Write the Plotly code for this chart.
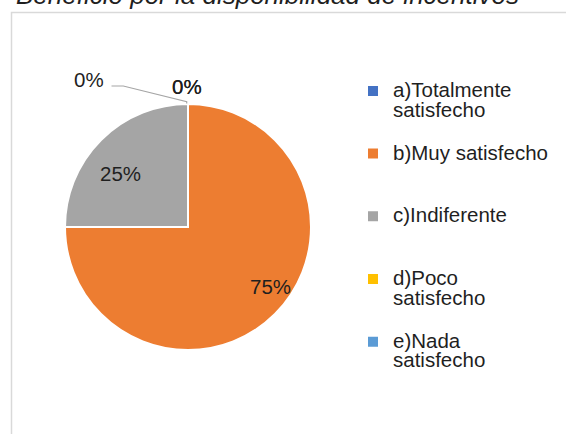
import plotly.graph_objects as go

# ---- data ----
categories = ["a)Totalmente satisfecho", "b)Muy satisfecho", "c)Indiferente",
              "d)Poco satisfecho", "e)Nada satisfecho"]
legend_lines = [["a)Totalmente", "satisfecho"], ["b)Muy satisfecho"], ["c)Indiferente"],
                ["d)Poco", "satisfecho"], ["e)Nada", "satisfecho"]]
values = [0, 75, 25, 0, 0]
title_text = "Beneficio por la disponibilidad de incentivos"

# ---- style ----
colors = ["#4472C4", "#ED7D31", "#A5A5A5", "#FFC000", "#5B9BD5"]
W, H = 566, 434
FONT = "Liberation Sans, Arial, sans-serif"
TXT = "#1f1f1f"
LEG_FS = 15.3
GLYPH_FS = 20.5

def px(x):
    return x / W

def py(y):
    return 1 - y / H

def legend_label(lines):
    parts = ["<span style='font-size:%spx'>%s</span>" % (GLYPH_FS, l) for l in lines]
    while len(parts) < 3:
        parts.append(" ")
    return "<br>".join(parts)

total = sum(values)
pct_text = ["%d%%" % round(100 * v / total) for v in values]

fig = go.Figure(go.Pie(
    labels=[legend_label(l) for l in legend_lines],
    values=values,
    customdata=categories,
    sort=False,
    direction="clockwise",
    rotation=0,
    textinfo="none",
    hovertemplate="%{customdata}: %{percent}<extra></extra>",
    marker=dict(colors=colors, line=dict(color="white", width=2)),
    domain=dict(x=[px(65), px(311)], y=[py(350), py(104)]),
    showlegend=True,
))

# label positions (pixel coords) for each slice
label_pos = [(186.5, 86), (270, 286), (120, 173), (89, 80), (186.5, 86)]
annotations = []
for (x, y), t in zip(label_pos, pct_text):
    annotations.append(dict(x=px(x), y=py(y), xref="paper", yref="paper", text=t,
                            showarrow=False, font=dict(family=FONT, size=20.5, color=TXT),
                            xanchor="center", yanchor="middle"))

annotations.append(dict(x=px(14), y=py(12.5), xref="paper", yref="paper", text="<i>%s</i>" % title_text,
                        showarrow=False, font=dict(family=FONT, size=26, color=TXT),
                        xanchor="left", yanchor="bottom"))

shapes = [
    dict(type="rect", xref="paper", yref="paper", x0=px(11.5), x1=1.2, y0=-0.2, y1=py(12.5),
         line=dict(color="#d9d9d9", width=1.5), fillcolor="rgba(0,0,0,0)", layer="below"),
    dict(type="path", xref="paper", yref="paper",
         path="M %f,%f L %f,%f L %f,%f L %f,%f" % (px(111.5), py(86), px(123.3), py(86),
                                                   px(186.7), py(101.7), px(186.7), py(103.5)),
         line=dict(color="#a6a6a6", width=1.2)),
]

fig.update_layout(
    width=W, height=H,
    margin=dict(l=0, r=0, t=0, b=0),
    paper_bgcolor="white",
    plot_bgcolor="white",
    font=dict(family=FONT, color=TXT),
    annotations=annotations,
    shapes=shapes,
    legend=dict(x=px(353), y=py(74.5), xanchor="left", yanchor="top",
                font=dict(family=FONT, size=LEG_FS, color=TXT),
                valign="top", bgcolor="rgba(0,0,0,0)", tracegroupgap=0),
)

fig.write_html("out.html", config={"displayModeBar": False},
               post_script="document.body.style.margin='0';document.body.style.overflow='hidden';")
